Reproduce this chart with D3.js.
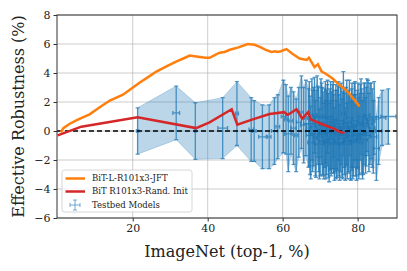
<!DOCTYPE html>
<html>
<head>
<meta charset="utf-8">
<script src="https://cdn.jsdelivr.net/npm/d3@7"></script>
<style>
  body { margin: 0; background: #fff; }
  text { font-family: "DejaVu Serif", serif; }
</style>
</head>
<body>
<div class="chart"></div>
<script>
// BiT-L-R101x3-JFT curve
var jftX = [0.8, 1.5, 3.2, 5.5, 8.5, 11, 13.9, 17.4, 19.5, 21.9, 24, 26.3, 29, 31.7, 33.5, 35.2, 36.5, 37.9, 39.5, 40.5, 42, 43.2, 44.5, 45.9, 48, 50.7, 52.5, 53.9, 55.5, 57, 58, 58.6, 59.5, 61, 62.5, 64.5, 65.5, 66.4, 67, 68.5, 69.4, 70.4, 71.5, 73.4, 75, 77, 78.8, 80.5];
var jftY = [-0.1, 0.2, 0.5, 0.8, 1.15, 1.6, 2.1, 2.5, 2.9, 3.35, 3.7, 4.1, 4.45, 4.8, 5.0, 5.2, 5.15, 5.1, 5.05, 5.05, 5.25, 5.4, 5.45, 5.6, 5.75, 6.0, 5.95, 5.8, 5.6, 5.45, 5.5, 5.45, 5.5, 5.65, 5.35, 5.0, 4.95, 4.9, 5.05, 4.4, 4.6, 4.1, 3.95, 3.6, 3.2, 2.8, 2.25, 1.7];

// BiT R101x3 random init curve
var randX = [0, 6.3, 21.3, 36.9, 40.5, 46.4, 47.9, 52, 56.5, 60.4, 61.3, 63.7, 65.2, 66.8, 67.5, 70.2, 73.8, 75.2, 76.5];
var randY = [-0.3, 0.3, 0.95, 0.2, 0.6, 1.5, 0.43, 0.8, 1.17, 1.3, 1.1, 1.5, 0.85, 1.3, 0.8, 0.5, 0.15, -0.05, -0.15];

// testbed models: x, y, x error, y error
var tbX = [21.3, 31.6, 36.7, 44.0, 47.8, 51.6, 52.4, 54.6, 56.4, 57.8, 58.7, 60.2, 60.9, 61.5, 62.2, 62.9, 63.6, 64.3, 65.0, 65.6, 66.2, 66.9,
           67.3, 67.8, 68.3, 68.7, 69.2, 69.6, 70.0, 70.4, 70.8, 71.2, 71.5, 71.9, 72.2, 72.6, 72.9, 73.3, 73.6, 74.0, 74.3, 74.7, 75.0,
           75.4, 75.8, 76.2, 76.5, 76.9, 77.2, 77.6, 78.0, 78.4, 78.7, 79.1, 79.5, 79.9, 80.3, 80.7, 81.1, 81.5, 81.9, 82.3, 82.8, 83.3,
           83.9, 84.4, 85.0, 85.6, 86.5, 88.2,
           67.1, 67.5, 68.0, 68.5, 68.9, 69.4, 69.8, 70.2, 70.6, 71.0, 71.4, 71.7, 72.0, 72.4, 72.8, 73.1, 73.5, 73.8, 74.2, 74.5,
           74.9, 75.2, 75.6, 76.0, 76.4, 76.7, 77.1, 77.4, 77.8, 78.2, 78.5, 78.9, 79.3, 79.7, 80.1, 80.5, 80.9, 81.3, 81.7, 82.1,
           82.5, 83.0, 83.6, 84.2];
var tbY = [0.0, 1.25, 0.0, 0.2, 1.2, 0.1, 0.0, -0.4, -0.4, 0.0, 0.3, 1.0, 0.8, -0.2, 0.7, 0.2, -0.3, 0.6, 1.3, 0.4, 0.9, 0.2,
           -0.3, 0.8, 0.3, -0.5, 1.0, 0.1, -0.4, 0.5, -0.2, 0.2, -0.6, 0.4, -0.3, 0.1, -0.5, 0.3, -0.2, 0.0, -0.6, 0.2, -0.3,
           0.1, -0.5, 1.2, -0.2, 0.3, -0.7, 0.0, -0.4, 0.2, -0.6, 0.4, -0.3, 0.1, -0.5, 0.6, 0.0, -0.2, 0.8, 0.3, 0.9, 0.5,
           0.2, 0.9, -1.2, 0.0, 0.9, 1.0,
           0.5, -0.8, 0.0, 1.1, -0.2, 0.4, -0.9, 0.9, 0.0, -0.7, 0.6, -0.1, 1.0, -0.8, 0.4, -0.1, 0.8, -0.9, 0.3, -0.2,
           0.7, -0.8, 0.5, -0.3, 0.2, -0.9, 0.6, -0.1, 0.9, -0.7, 0.3, -0.3, 0.7, -0.8, 0.4, -0.2, 1.0, -0.6, 0.5, -0.3,
           1.1, -0.1, 0.7, -0.4];
var tbXerr = [0.3, 0.9, 0.2, 1.3, 0.4, 0.6, 0.5, 1.0, 0.5, 0.8, 0.5, 0.6, 0.4, 1.0, 0.5, 0.7, 0.4, 0.6, 0.5, 0.8, 0.4, 0.6,
              1.0, 0.5, 0.7, 0.4, 0.9, 0.5, 0.8, 0.6, 1.1, 0.5, 0.7, 0.9, 0.6, 1.0, 0.5, 0.8, 0.6, 1.2, 0.5, 0.7, 0.9,
              0.6, 1.0, 0.5, 0.8, 0.6, 1.1, 0.5, 0.8, 0.6, 0.9, 0.7, 0.5, 1.0, 0.6, 0.8, 0.5, 0.9, 0.6, 0.7, 0.5, 0.6,
              0.7, 0.5, 0.8, 0.8, 1.0, 2.0,
              1.5, 0.8, 1.8, 0.6, 1.4, 0.7, 1.2, 1.6, 0.9, 1.3, 1.7, 0.8, 1.2, 1.5, 0.9, 1.8, 1.0, 1.3, 1.6, 0.9,
              1.4, 1.1, 1.7, 0.9, 1.3, 1.6, 1.0, 1.5, 0.8, 1.8, 1.1, 1.4, 0.9, 1.6, 1.2, 1.5, 0.9, 1.3, 1.1, 1.4,
              0.8, 1.2, 1.0, 0.9];
var tbYerr = [1.6, 1.85, 1.95, 2.1, 2.2, 2.2, 2.1, 2.2, 2.2, 2.3, 2.2, 2.5, 2.4, 2.6, 2.3, 2.5, 2.5, 2.4, 2.5, 2.6, 2.6, 2.7,
              2.7, 2.8, 2.7, 2.6, 2.8, 2.9, 2.7, 2.8, 2.9, 2.7, 2.7, 2.8, 2.9, 2.8, 2.6, 2.9, 2.7, 2.8, 2.7, 2.9, 2.8,
              2.9, 2.7, 2.9, 2.8, 2.7, 2.6, 2.8, 2.9, 2.7, 2.7, 2.9, 2.8, 2.7, 2.8, 2.6, 2.9, 2.8, 2.5, 2.7, 2.6, 2.8,
              2.7, 2.5, 2.2, 2.3, 1.9, 1.9,
              2.9, 2.5, 2.8, 2.6, 3.0, 2.7, 2.4, 2.7, 3.0, 2.6, 2.8, 2.9, 2.5, 2.7, 3.0, 2.8, 2.6, 2.5, 2.9, 3.0,
              2.7, 2.6, 2.8, 3.0, 2.7, 2.5, 2.9, 2.8, 2.6, 2.7, 3.0, 2.8, 2.7, 2.6, 2.9, 2.8, 2.6, 2.7, 2.8, 2.6,
              2.5, 2.7, 2.6, 2.5];

var xTicks = [20, 40, 60, 80];
var yTicks = [-6, -4, -2, 0, 2, 4, 6, 8];
var legendLabels = ["BiT-L-R101x3-JFT", "BiT R101x3-Rand. Init", "Testbed Models"];

var svgWidth = 407;
var svgHeight = 271;
var margin = { top: 15, right: 10, bottom: 53, left: 57 };
var width = svgWidth - margin.left - margin.right;
var height = svgHeight - margin.top - margin.bottom;

var blue = "#1f77b4", orange = "#ff7f0e", red = "#d62728";

var svg = d3.select(".chart")
    .append("svg")
    .attr("width", svgWidth)
    .attr("height", svgHeight);

var chartGroup = svg.append("g")
    .attr("transform", `translate(${margin.left}, ${margin.top})`);

var x = d3.scaleLinear().domain([-0.2, 90.5]).range([0, width]);
var y = d3.scaleLinear().domain([-6, 8]).range([height, 0]);

// grid
chartGroup.append("g").selectAll("line").data(xTicks).enter().append("line")
    .attr("x1", d => x(d)).attr("x2", d => x(d))
    .attr("y1", 0).attr("y2", height)
    .attr("stroke", "#b0b0b0").attr("stroke-width", 0.8).attr("opacity", 0.8);
chartGroup.append("g").selectAll("line").data(yTicks).enter().append("line")
    .attr("x1", 0).attr("x2", width)
    .attr("y1", d => y(d)).attr("y2", d => y(d))
    .attr("stroke", "#b0b0b0").attr("stroke-width", 0.8).attr("opacity", 0.8);

var testbed = tbX.map((v, i) => ({ x: v, y: tbY[i], xe: tbXerr[i], ye: tbYerr[i] }))
    .sort((a, b) => a.x - b.x);

// confidence band
var band = d3.area()
    .x(d => x(d.x))
    .y0(d => y(d.y - d.ye))
    .y1(d => y(d.y + d.ye));
chartGroup.append("path")
    .datum(testbed)
    .attr("d", band)
    .attr("fill", blue)
    .attr("fill-opacity", 0.3)
    .attr("stroke", blue)
    .attr("stroke-opacity", 0.3)
    .attr("stroke-width", 0.8);

// error bars
var cap = 2;
var bars = chartGroup.append("g")
    .attr("stroke", blue)
    .attr("stroke-width", 1.3)
    .attr("stroke-opacity", 0.75)
    .attr("fill", "none");
bars.selectAll("path").data(testbed).enter().append("path")
    .attr("d", function(d) {
        var cx = x(d.x), cy = y(d.y);
        var y0 = y(d.y - d.ye), y1 = y(d.y + d.ye);
        var x0 = x(d.x - d.xe), x1 = x(d.x + d.xe);
        return `M${cx},${y0}V${y1}` +
            `M${cx - cap},${y0}H${cx + cap}M${cx - cap},${y1}H${cx + cap}` +
            `M${x0},${cy}H${x1}` +
            `M${x0},${cy - cap}V${cy + cap}M${x1},${cy - cap}V${cy + cap}`;
    });

// zero line
chartGroup.append("line")
    .attr("x1", 0).attr("x2", width)
    .attr("y1", y(0)).attr("y2", y(0))
    .attr("stroke", "#000")
    .attr("stroke-width", 1.5)
    .attr("stroke-dasharray", "5,3");

var line = d3.line().x(d => x(d[0])).y(d => y(d[1]));

chartGroup.append("path")
    .datum(jftX.map((v, i) => [v, jftY[i]]))
    .attr("d", line)
    .attr("fill", "none")
    .attr("stroke", orange)
    .attr("stroke-width", 2.5);

chartGroup.append("path")
    .datum(randX.map((v, i) => [v, randY[i]]))
    .attr("d", line)
    .attr("fill", "none")
    .attr("stroke", red)
    .attr("stroke-width", 2.5);

// axes
var bottomAxis = d3.axisBottom(x).tickValues(xTicks).tickSize(3.5).tickPadding(3);
var leftAxis = d3.axisLeft(y).tickValues(yTicks).tickSize(3.5).tickPadding(3)
    .tickFormat(d => d < 0 ? "\u2212" + Math.abs(d) : d);

var gx = chartGroup.append("g")
    .attr("transform", `translate(0, ${height})`)
    .call(bottomAxis);
var gy = chartGroup.append("g").call(leftAxis);
[gx, gy].forEach(function(g) {
    g.select(".domain").remove();
    g.selectAll("line").attr("stroke", "#333");
    g.selectAll("text").attr("font-family", "DejaVu Serif").attr("font-size", 11).attr("fill", "#222");
});

// frame
chartGroup.append("rect")
    .attr("width", width).attr("height", height)
    .attr("fill", "none").attr("stroke", "#333").attr("stroke-width", 1);

// legend
var legend = chartGroup.append("g").attr("transform", "translate(5, 155)");
legend.append("rect")
    .attr("width", 130).attr("height", 42)
    .attr("rx", 2.5)
    .attr("fill", "#fff").attr("fill-opacity", 0.8)
    .attr("stroke", "#ccc").attr("stroke-width", 0.8);
var rowY = [8.5, 21.5, 35];
[orange, red].forEach(function(c, i) {
    legend.append("line")
        .attr("x1", 3.5).attr("x2", 23)
        .attr("y1", rowY[i]).attr("y2", rowY[i])
        .attr("stroke", c).attr("stroke-width", 2.5);
});
var lx = 13, ly = rowY[2];
legend.append("path")
    .attr("d", `M${lx - 5},${ly}H${lx + 5}M${lx},${ly - 5}V${ly + 5}` +
        `M${lx - 5},${ly - 2}V${ly + 2}M${lx + 5},${ly - 2}V${ly + 2}` +
        `M${lx - 2},${ly - 5}H${lx + 2}M${lx - 2},${ly + 5}H${lx + 2}`)
    .attr("stroke", blue).attr("stroke-opacity", 0.6).attr("stroke-width", 1).attr("fill", "none");
legend.selectAll("text.lab").data(legendLabels).enter().append("text")
    .attr("class", "lab")
    .attr("x", 30)
    .attr("y", (d, i) => rowY[i])
    .attr("dy", "0.35em")
    .attr("font-size", 8.5)
    .attr("fill", "#222")
    .text(d => d);

// axis labels
svg.append("text")
    .attr("x", margin.left + width / 2)
    .attr("y", 257)
    .attr("text-anchor", "middle")
    .attr("font-size", 16)
    .attr("fill", "#222")
    .text("ImageNet (top-1, %)");

svg.append("text")
    .attr("transform", `translate(24, ${margin.top + height / 2}) rotate(-90)`)
    .attr("text-anchor", "middle")
    .attr("font-size", 16)
    .attr("fill", "#222")
    .text("Effective Robustness (%)");
</script>
</body>
</html>
